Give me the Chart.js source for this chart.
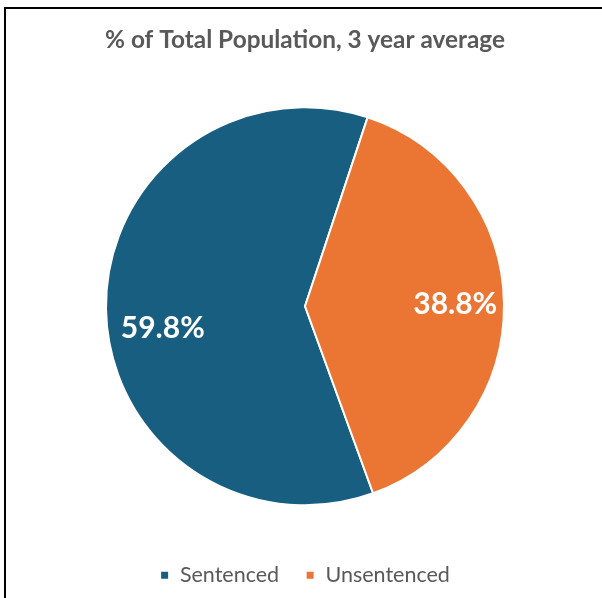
<!DOCTYPE html>
<html>
<head>
<meta charset="utf-8">
<script src="https://cdn.jsdelivr.net/npm/chart.js@4"></script>
<style>
  html, body { margin: 0; padding: 0; background: #fff; }
  .frame { position: absolute; left: 0; top: 0; width: 602px; height: 598px; }
  .border { position: absolute; left: 4px; top: 7px; right: -10px; bottom: -10px;
            border-left: 2px solid #000; border-top: 2px solid #000; }
  canvas { position: absolute; left: 0; top: 0; }
</style>
</head>
<body>
<div class="frame">
  <div class="border"></div>
  <canvas id="myChart" width="602" height="598"></canvas>
</div>
<script>
// data
const categories = ['Sentenced', 'Unsentenced'];
const values = [59.8, 38.8];
const colors = ['#175e80', '#eb7634'];

// slice labels, drawn inside each slice
const labelNudgeX = [8, 0];
const labelNudgeY = [20, 0];
const sliceLabels = {
  id: 'sliceLabels',
  afterDatasetsDraw(chart) {
    const c = chart.ctx;
    const meta = chart.getDatasetMeta(0);
    c.save();
    c.font = 'bold 30px Lato, "Open Sans", sans-serif';
    c.fillStyle = '#ffffff';
    c.textAlign = 'center';
    c.textBaseline = 'middle';
    meta.data.forEach((arc, i) => {
      const mid = (arc.startAngle + arc.endAngle) / 2;
      const r = arc.outerRadius * 0.755;
      const x = arc.x + Math.cos(mid) * r + labelNudgeX[i];
      const y = arc.y + Math.sin(mid) * r + labelNudgeY[i];
      c.fillText(values[i].toFixed(1) + '%', x, y);
    });
    c.restore();
  }
};

new Chart(document.getElementById('myChart'), {
  type: 'pie',
  data: {
    labels: categories,
    datasets: [{
      data: values,
      backgroundColor: colors,
      borderColor: '#ffffff',
      borderWidth: 2
    }]
  },
  options: {
    responsive: false,
    animation: false,
    rotation: 160,
    layout: { padding: { left: 105, right: 97, top: 0, bottom: 2 } },
    plugins: {
      title: {
        display: true,
        text: '% of Total Population, 3 year average',
        color: '#595959',
        font: { family: 'Lato, "Open Sans", sans-serif', size: 24.5, weight: 'bold' },
        padding: { top: 25, bottom: 3.6 }
      },
      legend: {
        position: 'bottom',
        labels: {
          color: '#595959',
          font: { family: 'Lato, "Open Sans", sans-serif', size: 21.5 },
          boxWidth: 9,
          boxHeight: 9,
          padding: 10,
          generateLabels(chart) {
            const items = Chart.overrides.pie.plugins.legend.labels.generateLabels(chart);
            items.forEach((it, i) => { if (i < items.length - 1) it.text += '   '; });
            return items;
          }
        }
      },
      tooltip: { enabled: false }
    }
  },
  plugins: [sliceLabels]
});
</script>
</body>
</html>
